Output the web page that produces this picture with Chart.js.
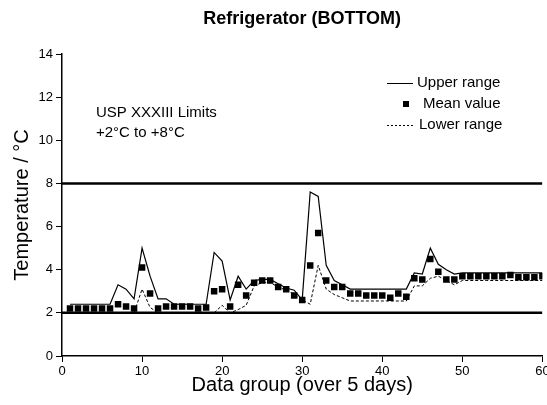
<!DOCTYPE html>
<html>
<head>
<meta charset="utf-8">
<script src="https://cdn.jsdelivr.net/npm/chart.js@4.4.1/dist/chart.umd.min.js"></script>
<style>
  html, body { margin: 0; padding: 0; background: #fff; }
</style>
</head>
<body>
<canvas id="fridgeChart" width="547" height="405"></canvas>
<script>
var groups = [1, 2, 3, 4, 5, 6, 7, 8, 9, 10, 11, 12, 13, 14, 15, 16, 17, 18, 19, 20,
              21, 22, 23, 24, 25, 26, 27, 28, 29, 30, 31, 32, 33, 34, 35, 36, 37, 38, 39, 40,
              41, 42, 43, 44, 45, 46, 47, 48, 49, 50, 51, 52, 53, 54, 55, 56, 57, 58, 59, 60];

var upperRange = [2.4, 2.4, 2.4, 2.4, 2.4, 2.4, 3.3, 3.1, 2.65, 5.0,
                  3.7, 2.65, 2.65, 2.4, 2.4, 2.4, 2.4, 2.4, 4.8, 4.4,
                  2.6, 3.7, 3.1, 3.5, 3.55, 3.55, 3.35, 3.15, 3.05, 2.6,
                  7.6, 7.4, 4.2, 3.5, 3.3, 3.1, 3.1, 3.1, 3.1, 3.1,
                  3.1, 3.1, 3.1, 3.85, 3.8, 5.0, 4.25, 4.0, 3.8, 3.85,
                  3.85, 3.85, 3.85, 3.85, 3.85, 3.85, 3.85, 3.85, 3.85, 3.85];

var meanValue = [2.2, 2.2, 2.2, 2.2, 2.2, 2.2, 2.4, 2.3, 2.2, 4.1,
                 2.9, 2.2, 2.3, 2.3, 2.3, 2.3, 2.2, 2.25, 3.0, 3.1,
                 2.3, 3.3, 2.8, 3.4, 3.5, 3.5, 3.2, 3.1, 2.8, 2.6,
                 4.2, 5.7, 3.5, 3.2, 3.2, 2.9, 2.9, 2.8, 2.8, 2.8,
                 2.7, 2.9, 2.75, 3.6, 3.55, 4.5, 3.9, 3.55, 3.55, 3.7,
                 3.7, 3.7, 3.7, 3.7, 3.7, 3.75, 3.65, 3.65, 3.65, 3.7];

var lowerRange = [2.0, 2.0, 2.0, 2.0, 2.0, 2.0, 2.0, 2.0, 2.0, 3.1,
                  2.25, 2.0, 2.0, 2.0, 2.0, 2.0, 2.0, 2.0, 2.0, 2.35,
                  2.0, 2.15, 2.35, 3.25, 3.4, 3.4, 3.2, 3.05, 2.85, 2.6,
                  2.4, 4.2, 3.1, 2.85, 2.7, 2.55, 2.55, 2.55, 2.55, 2.55,
                  2.55, 2.55, 2.55, 3.25, 3.25, 3.6, 3.7, 3.5, 3.3, 3.5,
                  3.5, 3.5, 3.5, 3.5, 3.5, 3.5, 3.5, 3.5, 3.5, 3.5];

var limitLow = 2;
var limitHigh = 8;
var xRange = [0, 60];

var FONT = "'Liberation Sans', Arial, Helvetica, sans-serif";

var toPoints = function(values) {
    return groups.map(function(g, i) { return { x: g, y: values[i] }; });
};

var limitLine = function(level) {
    return {
        label: 'limit',
        data: [{ x: xRange[0], y: level }, { x: xRange[1], y: level }],
        borderColor: '#000',
        borderWidth: 2.5,
        pointRadius: 0,
        fill: false
    };
};

// legend + limits note drawn inside the plot, like the original figure
var insideText = {
    id: 'insideText',
    afterDraw: function(chart) {
        var ctx = chart.ctx;
        ctx.save();
        ctx.fillStyle = '#000';
        ctx.strokeStyle = '#000';
        ctx.font = '15px ' + FONT;
        ctx.textBaseline = 'middle';
        ctx.textAlign = 'left';

        ctx.fillText('USP XXXIII Limits', 96, 113);
        ctx.fillText('+2\u00B0C to +8\u00B0C', 96, 133);

        // Upper range
        ctx.lineWidth = 1;
        ctx.beginPath();
        ctx.moveTo(387, 83.5); ctx.lineTo(413, 83.5);
        ctx.stroke();
        ctx.fillText(chart.data.datasets[2].label, 417, 83);

        // Mean value
        ctx.fillRect(403, 101, 6, 6);
        ctx.fillText(chart.data.datasets[4].label, 423, 104);

        // Lower range
        ctx.setLineDash([2, 2]);
        ctx.beginPath();
        ctx.moveTo(387, 125.5); ctx.lineTo(415, 125.5);
        ctx.stroke();
        ctx.setLineDash([]);
        ctx.fillText(chart.data.datasets[3].label, 419, 125);
        ctx.restore();
    }
};

var chart = new Chart(document.getElementById('fridgeChart'), {
    type: 'line',
    data: {
        datasets: [
            limitLine(limitHigh),
            limitLine(limitLow),
            {
                label: 'Upper range',
                data: toPoints(upperRange),
                borderColor: '#000',
                borderWidth: 1.2,
                pointRadius: 0,
                tension: 0,
                fill: false
            },
            {
                label: 'Lower range',
                data: toPoints(lowerRange),
                borderColor: '#000',
                borderWidth: 1,
                borderDash: [3, 2],
                pointRadius: 0,
                tension: 0,
                fill: false
            },
            {
                label: 'Mean value',
                data: toPoints(meanValue),
                showLine: false,
                pointStyle: 'rect',
                pointRadius: 4.6,
                pointBackgroundColor: '#000',
                pointBorderWidth: 0
            }
        ]
    },
    options: {
        responsive: false,
        animation: false,
        layout: { padding: { left: 0, right: 4, top: 0, bottom: 0 } },
        plugins: {
            legend: { display: false },
            tooltip: { enabled: false },
            title: {
                display: true,
                text: 'Refrigerator (BOTTOM)',
                fullSize: false,
                color: '#000',
                font: { family: FONT, size: 18, weight: 'bold' },
                padding: { top: 8, bottom: 24.4 }
            }
        },
        scales: {
            x: {
                type: 'linear',
                min: xRange[0],
                max: xRange[1],
                ticks: {
                    stepSize: 10,
                    color: '#000',
                    padding: 2,
                    maxRotation: 0,
                    font: { family: FONT, size: 13 }
                },
                grid: { display: true, drawOnChartArea: false, drawTicks: true, tickLength: 6, color: '#000' },
                border: { display: true, color: '#000', width: 1.5 },
                title: {
                    display: true,
                    text: 'Data group (over 5 days)',
                    color: '#000',
                    font: { family: FONT, size: 20 },
                    padding: { top: 0, bottom: 8 }
                },
                afterFit: function(scale) {
                    scale.height = 49;
                    scale.paddingLeft = 0;
                    scale.paddingRight = 0;
                }
            },
            y: {
                min: 0,
                max: 14,
                ticks: {
                    stepSize: 2,
                    color: '#000',
                    padding: 3,
                    font: { family: FONT, size: 13 }
                },
                grid: { display: true, drawOnChartArea: false, drawTicks: true, tickLength: 6, color: '#000' },
                border: { display: true, color: '#000', width: 1.5 },
                title: {
                    display: true,
                    text: 'Temperature / \u00B0C',
                    color: '#000',
                    font: { family: FONT, size: 20 },
                    padding: { top: 10, bottom: 0 }
                },
                afterFit: function(scale) {
                    scale.width = 62;
                    scale.paddingTop = 0;
                    scale.paddingBottom = 0;
                }
            }
        }
    },
    plugins: [insideText]
});
</script>
</body>
</html>
